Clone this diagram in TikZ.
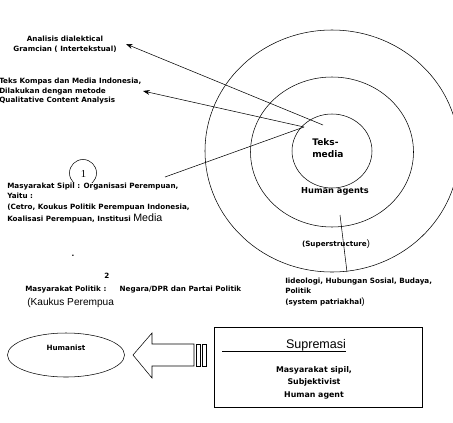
\documentclass[tikz,border=0pt]{standalone}
\usepackage{fontspec}
\setmainfont{DejaVu Sans}
\newfontfamily\arialfont{Liberation Sans}
\newfontfamily\timesfont{Liberation Serif}
\usetikzlibrary{positioning, arrows.meta}
\usetikzlibrary{shapes.geometric}
\tikzstyle{txt} = [
    font=\bfseries\fontsize{5.4}{7.1}\selectfont,
    inner sep=0pt,
]
\tikzstyle{lefttxt} = [
    txt,
    align=left,
    anchor=north west,
]
\tikzstyle{ring} = [
    ellipse, draw, thin,
]
\tikzstyle{arrow} = [-{Stealth[length=5pt, width=3.6pt]}]
\tikzstyle{line} = [-]

\begin{document}
\begin{tikzpicture}[x=0.75pt, y=-0.75pt]
    \useasboundingbox (0,0) rectangle (453,422);
    \clip (0,0) rectangle (453,422);

    % rings
    \node (outer) at (332,151) [ring, minimum width=190.5pt, minimum height=181.5pt] {};
    \node (middle) at (332,152) [ring, minimum width=122.25pt, minimum height=112.5pt] {};
    \node (inner) at (332,151) [ring, minimum width=60pt, minimum height=55.5pt] {};
    \node (teks) at (312,138) [lefttxt, font=\bfseries\fontsize{6.8}{9.5}\selectfont] {Teks-\\media};
    \node (agents) at (335,191) [txt, font=\bfseries\fontsize{6.2}{8}\selectfont] {Human agents};
    \node (super) at (336,244) [txt] {(Superstructure{\arialfont\mdseries\fontsize{7}{8}\selectfont)}};
    \node (ideo) at (285,278) [lefttxt] {Iideologi, Hubungan Sosial, Budaya,\\Politik\\[1.5pt](system patriakhal{\arialfont\mdseries\fontsize{7}{8}\selectfont)}};

    % left texts
    \node (gramsci) at (65,36) [txt, align=center, anchor=north] {Analisis dialektical\\Gramcian ( Intertekstual)};
    \node (kompas) at (-1,78) [lefttxt] {Teks Kompas dan Media Indonesia,\\Dilakukan dengan metode\\Qualitative Content Analysis};
    \node (one) at (83,173) [circle, draw, thin, minimum size=20.25pt, inner sep=0pt] {};
    \node at (83.5,174) [font=\timesfont\fontsize{8}{9}\selectfont, inner sep=0pt] {1};
    \node (sipil) at (7,183) [lefttxt, fill=white] {Masyarakat Sipil : Organisasi Perempuan,\\Yaitu :\\[1.5pt](Cetro, Koukus Politik Perempuan Indonesia,\\[1.5pt]Koalisasi Perempuan, Institusi {\arialfont\mdseries\fontsize{8}{9}\selectfont Media}};
    \node (dot) at (73,256) [txt] {.};
    \node (two) at (107,276) [txt] {2};
    \node (politik) at (25,286) [lefttxt] {Masyarakat Politik :\hspace{10pt}Negara/DPR dan Partai Politik};
    \node (kaukus) at (27,298) [lefttxt, font=\arialfont\fontsize{7.6}{9}\selectfont] {(Kaukus Perempua};

    % bottom row
    \node (humanist) at (66,355) [ellipse, draw, thin, minimum width=87.75pt, minimum height=33pt] {};
    \node at (66,348) [txt] {Humanist};
    \draw [thin] (133,355) -- (152,333) -- (152,344) -- (194,344) -- (194,366)
        -- (152,366) -- (152,378) -- cycle;
    \foreach \x in {196,202} {
        \draw [thin] (\x,344) rectangle (\x+4,366);
    }
    \node (box) at (318,367) [draw, thin, minimum width=156pt, minimum height=60pt] {};
    \node (supremasi) at (316,345) [inner sep=0pt, font=\arialfont\fontsize{9.4}{11}\selectfont] {Supremasi};
    \coordinate (uline) at (222,351);
    \draw [thin] (uline) -- (supremasi.south east |- uline);
    \node (civil) at (314,366) [txt, align=center, anchor=north,
        font=\bfseries\fontsize{5.9}{9.3}\selectfont] {Masyarakat sipil,\\Subjektivist\\Human agent};

    % arrows
    \coordinate (hubA) at (323,125);
    \coordinate (hubB) at (304,127);
    \coordinate (tipA) at (126,44);
    \coordinate (tipB) at (143,91);
    \coordinate (tailC) at (165,177);
    \coordinate (footA) at (340,215);
    \coordinate (footB) at (347,272);
    \draw [arrow] (hubA) to (tipA);
    \draw [arrow] (hubB) to (tipB);
    \draw [line] (tailC) to (hubB);
    \draw [line] (footA) to (footB);
\end{tikzpicture}
\end{document}
